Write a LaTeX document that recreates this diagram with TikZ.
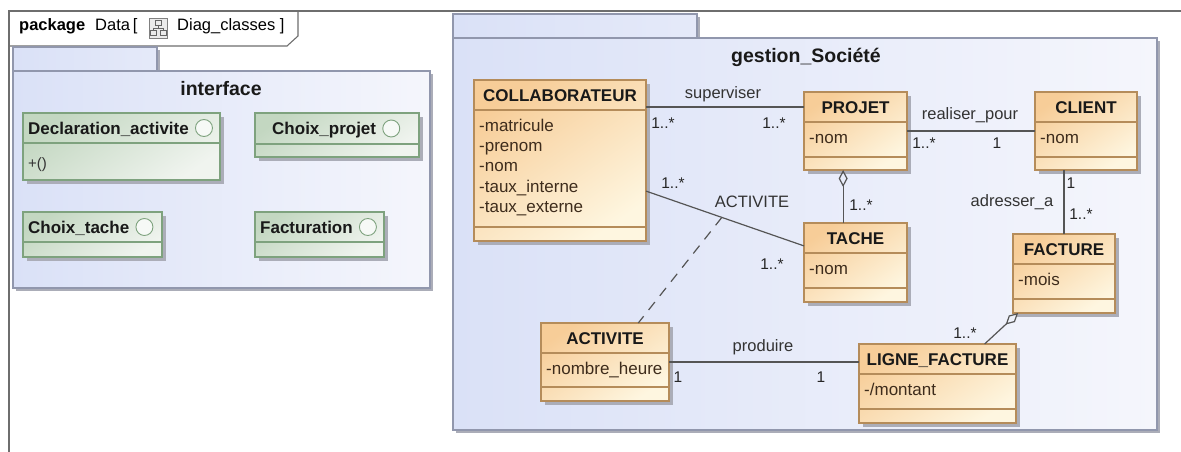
\documentclass[tikz,border=0pt]{standalone}
\usepackage{fontspec}
\setmainfont{Liberation Sans}
\usetikzlibrary{arrows.meta,calc,positioning}

\definecolor{pkgA}{HTML}{DAE1F7}
\definecolor{pkgB}{HTML}{F5F6FC}
\definecolor{pkgline}{HTML}{9197AD}
\definecolor{shadowgrey}{HTML}{ABADB8}
\definecolor{clsA}{HTML}{F7CD98}
\definecolor{clsB}{HTML}{FEF6E0}
\definecolor{clsborder}{HTML}{B58C5A}
\definecolor{ifA}{HTML}{C3D7C1}
\definecolor{ifB}{HTML}{F0F4EF}
\definecolor{ifborder}{HTML}{7EA27E}
\definecolor{attrtext}{HTML}{3E2C1C}
\definecolor{wire}{HTML}{555555}
\definecolor{framegrey}{HTML}{6E6E6E}

% class box: name, x1, y1, x2, y2, header line, attribute line, title, attributes
\newcommand{\umlclass}[9]{%
  \fill[shadowgrey] (#2+4,#3+4) rectangle (#4+4,#5+4);
  \node[clsbox, minimum width={(#4-#2)*1pt}, minimum height={(#5-#3)*1pt}] (#1) at ({(#2+#4)/2},{(#3+#5)/2}) {};
  \draw[clssep] (#2,#6) -- (#4,#6) (#2,#7) -- (#4,#7);
  \node[clstitle] (#1-t) at ({(#2+#4)/2},{(#3+#6)/2}) {#8};
  \foreach \a [count=\i] in {#9}
    \node[clsattr] (#1-a\i) at (#2+5,{#6+21+20.4*(\i-1)}) {\a};
}
% interface box: name, x1, y1, x2, y2, header line, title x, title
\newcommand{\umliface}[8]{%
  \fill[shadowgrey] (#2+4,#3+4) rectangle (#4+4,#5+4);
  \node[ifbox, minimum width={(#4-#2)*1pt}, minimum height={(#5-#3)*1pt}] (#1) at ({(#2+#4)/2},{(#3+#5)/2}) {};
  \draw[ifsep] (#2,#6) -- (#4,#6);
  \node[iftitle] (#1-t) at (#7,{(#3+#6)/2}) {#8};
  \node[ifcircle, right=6pt of #1-t] (#1-c) {};
}

\begin{document}
\begin{tikzpicture}[x=1pt,y=-1pt,
  clsbox/.style={draw=clsborder, line width=1.1pt, top color=clsA, bottom color=clsB, shading angle=35, inner sep=0pt, outer sep=0pt},
  clssep/.style={draw=clsborder, line width=1.1pt},
  clstitle/.style={font=\fontsize{17}{20}\selectfont\bfseries, text=black!90, inner sep=0pt, text height=12.2pt, text depth=0pt},
  clsattr/.style={anchor=base west, font=\fontsize{17}{20}\selectfont, text=attrtext, inner sep=0pt},
  ifbox/.style={draw=ifborder, line width=1.1pt, top color=ifA, bottom color=ifB, shading angle=35, inner sep=0pt, outer sep=0pt},
  ifsep/.style={draw=ifborder, line width=1.1pt},
  iftitle/.style={anchor=west, font=\fontsize{17}{20}\selectfont\bfseries, text=black!90, inner sep=0pt, text height=12.2pt, text depth=0pt},
  ifcircle/.style={circle, draw=ifborder, line width=0.9pt, fill=white!85!ifA, minimum size=17pt, inner sep=0pt},
  pkgtitle/.style={font=\fontsize{19.5}{22}\selectfont\bfseries, text=black!90, inner sep=0pt},
  wire/.style={draw=wire, line width=1.2pt},
  lbl/.style={font=\fontsize{16.5}{18}\selectfont, text=black!80, inner sep=0pt},
  mult/.style={font=\fontsize{15.5}{18}\selectfont, text=black!85, inner sep=0pt}]
\useasboundingbox (0,0) rectangle (1181,452);
\fill[white] (0,0) rectangle (1181,452);

% diagram frame
\draw[framegrey, line width=1.3pt] (9,452) -- (9,11) -- (1181,11);
\draw[framegrey, line width=1.1pt] (9,46) -- (287,46) -- (298,36) -- (298,11);
\node[anchor=west, font=\fontsize{16.5}{18}\selectfont\bfseries, inner sep=0pt] (frm-kw) at (19,26) {package};
\node[anchor=west, font=\fontsize{16.5}{18}\selectfont, inner sep=0pt] (frm-name) at (95,26) {Data\,[};
\node[draw=black!50, fill=black!8, line width=0.8pt, minimum width=18pt, minimum height=20pt, inner sep=0pt] (frm-icon) at (158,28) {};
\draw[black!60, line width=0.8pt] (155,20) rectangle (161,25) (158,25) -- (158,28) (153,28) -- (163,28) (153,28) -- (153,30) (163,28) -- (163,30)
  (150,30) rectangle (156,35) (160,30) rectangle (166,35);
\node[anchor=west, font=\fontsize{16.5}{18}\selectfont, inner sep=0pt] (frm-diag) at (177,26) {Diag\_classes ]};

% package interface
\fill[shadowgrey] (16,74) rectangle (433,291);
\fill[shadowgrey] (16,50) rectangle (160,71);
\fill[left color=pkgA, right color=pkgA!60!pkgB] (13,47) rectangle (157,71);
\draw[pkgline, line width=1.1pt] (13,47) rectangle (157,71);
\fill[left color=pkgA, right color=pkgB] (13,71) rectangle (430,288);
\draw[pkgline, line width=1.1pt] (13,71) rectangle (430,288);
\node[pkgtitle] (pk-iface) at (221,89) {interface};

\umliface{decl}{23}{113}{220}{180}{143}{28}{Declaration\_activite}
\node[clsattr, text=black!80, font=\fontsize{15}{18}\selectfont] (decl-a1) at (28,168) {+()};
\umliface{chproj}{255}{113}{419}{157}{144}{272}{Choix\_projet}
\umliface{chtache}{23}{212}{162}{257}{242}{28}{Choix\_tache}
\umliface{fact}{255}{212}{384}{257}{242}{260}{Facturation}

% package gestion_Societe
\fill[shadowgrey] (456,41) rectangle (1160,433);
\fill[shadowgrey] (456,17) rectangle (700,38);
\fill[left color=pkgA, right color=pkgA!60!pkgB] (453,14) rectangle (697,38);
\draw[pkgline, line width=1.1pt] (453,14) rectangle (697,38);
\fill[left color=pkgA, right color=pkgB] (453,38) rectangle (1157,430);
\draw[pkgline, line width=1.1pt] (453,38) rectangle (1157,430);
\node[pkgtitle] (pk-gest) at (806,57) {gestion\_Société};

\umlclass{collab}{474}{80}{646}{241}{110}{227}{COLLABORATEUR}{-matricule,-prenom,-nom,-taux\_interne,-taux\_externe}
\umlclass{projet}{804}{92}{907}{170}{122}{157}{PROJET}{-nom}
\umlclass{client}{1035}{92}{1137}{170}{122}{157}{CLIENT}{-nom}
\umlclass{tache}{804}{223}{907}{302}{253}{288}{TACHE}{-nom}
\umlclass{facture}{1013}{234}{1115}{313}{264}{299}{FACTURE}{-mois}
\umlclass{activite}{541}{323}{669}{401}{353}{387}{ACTIVITE}{-nombre\_heure}
\umlclass{ligne}{859}{344}{1016}{423}{374}{409}{LIGNE\_FACTURE}{-/montant}

% associations
\draw[wire] (collab.east |- projet-t) -- (projet.west |- projet-t);
\draw[wire] (projet.east) -- (client.west);
\coordinate (pt-agg) at ($(projet.south west)!0.38!(projet.south east)$);
\draw[wire, {Diamond[open,length=17pt,width=9pt]}-] (pt-agg) -- (pt-agg |- tache.north);
\draw[wire] (facture.north |- client.south) -- (facture.north);
\coordinate (act-a) at ($(collab.north east)!0.69!(collab.south east)$);
\coordinate (act-b) at ($(tache.north west)!0.29!(tache.south west)$);
\draw[wire] (act-a) -- (act-b);
\coordinate (act-m) at ($(act-a)!0.48!(act-b)$);
\coordinate (act-top) at ($(activite.north west)!0.76!(activite.north east)$);
\draw[wire, dash pattern=on 10pt off 8pt] (act-m) -- (act-top);
\draw[wire] (activite.east) -- (activite.east -| ligne.west);
\coordinate (lf-top) at ($(ligne.north west)!0.80!(ligne.north east)$);
\coordinate (fa-bot) at ($(facture.south west)!0.05!(facture.south east)$);
\draw[wire, {Diamond[open,length=17pt,width=9pt]}-] (fa-bot) -- (lf-top);

% labels and multiplicities
\node[lbl] (sup-l) at (723,94) {superviser};
\node[mult] (sup-m1) at (663,123) {1..*};
\node[mult] (sup-m2) at (774,123) {1..*};
\node[lbl] (real-l) at (970,115) {realiser\_pour};
\node[mult] (real-m1) at (924,143) {1..*};
\node[mult] (real-m2) at (997,143) {1};
\node[mult] (comp-m) at (861,205) {1..*};
\node[lbl] (adr-l) at (1012,202) {adresser\_a};
\node[mult] (adr-m1) at (1071,183) {1};
\node[mult] (adr-m2) at (1081,214) {1..*};
\node[lbl] (act-l) at (752,202) {ACTIVITE};
\node[mult] (act-m1) at (673,183) {1..*};
\node[mult] (act-m2) at (772,264) {1..*};
\node[lbl] (prod-l) at (763,347) {produire};
\node[mult] (prod-m1) at (678,377) {1};
\node[mult] (prod-m2) at (821,377) {1};
\node[mult] (lf-m) at (965,333) {1..*};
\end{tikzpicture}
\end{document}
